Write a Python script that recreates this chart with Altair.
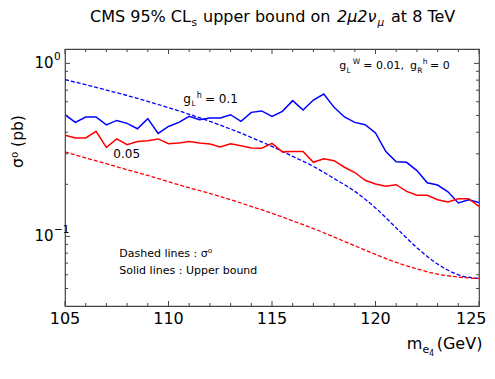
import altair as alt
import pandas as pd

# ---------------- data ----------------
masses_half = [105.0, 105.5, 106.0, 106.5, 107.0, 107.5, 108.0, 108.5, 109.0, 109.5,
               110.0, 110.5, 111.0, 111.5, 112.0, 112.5, 113.0, 113.5, 114.0, 114.5,
               115.0, 115.5, 116.0, 116.5, 117.0, 117.5, 118.0, 118.5, 119.0, 119.5,
               120.0, 120.5, 121.0, 121.5, 122.0, 122.5, 123.0, 123.5, 124.0, 124.5,
               125.0]
# solid lines : CMS upper bound
bound_gl01 = [0.505, 0.456, 0.490, 0.490, 0.441, 0.468, 0.450, 0.419, 0.479, 0.394,
              0.432, 0.456, 0.494, 0.473, 0.483, 0.483, 0.505, 0.462, 0.521, 0.531,
              0.494, 0.528, 0.609, 0.538, 0.614, 0.665, 0.557, 0.490, 0.456, 0.442,
              0.396, 0.309, 0.270, 0.268, 0.240, 0.204, 0.198, 0.181, 0.156, 0.163,
              0.157]
bound_gl005 = [0.384, 0.371, 0.371, 0.405, 0.327, 0.366, 0.339, 0.354, 0.357, 0.366,
               0.343, 0.347, 0.354, 0.347, 0.342, 0.329, 0.343, 0.334, 0.324, 0.323,
               0.345, 0.308, 0.310, 0.310, 0.268, 0.281, 0.274, 0.251, 0.234, 0.211,
               0.201, 0.195, 0.199, 0.182, 0.173, 0.173, 0.163, 0.158, 0.165, 0.165,
               0.149]

masses_int = [105, 106, 107, 108, 109, 110, 111, 112, 113, 114, 115,
              116, 117, 118, 119, 120, 121, 122, 123, 124, 125]
# dashed lines : sigma0
sigma_gl01 = [0.805, 0.753, 0.701, 0.652, 0.603, 0.555, 0.508, 0.462, 0.417, 0.373, 0.331,
              0.290, 0.254, 0.216, 0.182, 0.146, 0.112, 0.0861, 0.0692, 0.0600, 0.0571]
sigma_gl005 = [0.308, 0.284, 0.263, 0.243, 0.225, 0.207, 0.191, 0.177, 0.163, 0.149, 0.136,
               0.123, 0.111, 0.0991, 0.0883, 0.0787, 0.0708, 0.0649, 0.0605, 0.0582, 0.0571]

x_major = [105, 110, 115, 120, 125]
x_labels = ["105", "110", "115", "120", "125"]
x_minor = [106, 107, 108, 109, 111, 112, 113, 114, 116, 117, 118, 119,
           121, 122, 123, 124]
y_major = [0.1, 1.0]
y_exponents = ["−1", "0"]
y_minor = [0.05, 0.06, 0.07, 0.08, 0.09, 0.2, 0.3, 0.4, 0.5, 0.6, 0.7, 0.8, 0.9]

W, H = 414, 257
BLUE, RED = "#0000ff", "#ff0000"
FONT = "DejaVu Sans"
FRAME = "#444444"

xscale = alt.Scale(domain=[105, 125], nice=False, zero=False)
yscale = alt.Scale(type="log", domain=[0.0396, 1.211], nice=False)
xaxis = alt.Axis(values=x_major, title=None, labels=False, domain=False,
                 ticks=False, grid=False)
yaxis = alt.Axis(values=y_major, title=None, labels=False, domain=False,
                 ticks=False, grid=False)


def X():
    return alt.X("m:Q", scale=xscale, axis=xaxis)


def Y():
    return alt.Y("v:Q", scale=yscale, axis=yaxis)


def line(ms, vs, color, dashed=False):
    df = pd.DataFrame({"m": ms, "v": vs})
    if dashed:
        mk = alt.Chart(df).mark_line(color=color, strokeWidth=1.3, strokeDash=[4, 2],
                                     interpolate="monotone", clip=True)
    else:
        mk = alt.Chart(df).mark_line(color=color, strokeWidth=1.5, clip=True)
    return mk.encode(x=X(), y=Y())


def txt(s, x, y, size, **kw):
    return alt.Chart(pd.DataFrame({"t": [s]})).mark_text(
        align=kw.pop("align", "left"), baseline=kw.pop("baseline", "alphabetic"),
        fontSize=size, font=FONT, color="black", **kw
    ).encode(x=alt.value(x), y=alt.value(y), text="t:N")


layers = []
layers.append(line(masses_int, sigma_gl01, BLUE, dashed=True))
layers.append(line(masses_int, sigma_gl005, RED, dashed=True))
layers.append(line(masses_half, bound_gl01, BLUE))
layers.append(line(masses_half, bound_gl005, RED))

# inward ticks
for vals, ln in ((x_major, 5), (x_minor, 3)):
    d = pd.DataFrame({"m": vals})
    layers.append(alt.Chart(d).mark_rule(color=FRAME, strokeWidth=1).encode(
        x=X(), y=alt.value(H), y2=alt.value(H - ln)))
    layers.append(alt.Chart(d).mark_rule(color=FRAME, strokeWidth=1).encode(
        x=X(), y=alt.value(0), y2=alt.value(ln)))
for vals, ln in ((y_major, 5), (y_minor, 3)):
    d = pd.DataFrame({"v": vals})
    layers.append(alt.Chart(d).mark_rule(color=FRAME, strokeWidth=1).encode(
        y=Y(), x=alt.value(0), x2=alt.value(ln)))
    layers.append(alt.Chart(d).mark_rule(color=FRAME, strokeWidth=1).encode(
        y=Y(), x=alt.value(W), x2=alt.value(W - ln)))

# x tick labels (last one kept inside the page)
xlab = pd.DataFrame({"m": x_major[:-1], "t": x_labels[:-1]})
layers.append(alt.Chart(xlab).mark_text(
    align="center", baseline="top", fontSize=16, font=FONT, color="black"
).encode(x=X(), y=alt.value(H + 5), text="t:N"))
xlab_last = pd.DataFrame({"m": x_major[-1:], "t": x_labels[-1:]})
layers.append(alt.Chart(xlab_last).mark_text(
    align="right", baseline="top", fontSize=16, font=FONT, color="black", dx=7.5
).encode(x=X(), y=alt.value(H + 5), text="t:N"))

# y tick labels 10^0, 10^-1 built from base and superscript
ylab = pd.DataFrame({"v": y_major, "e": y_exponents, "b": ["10", "10"]})
layers.append(alt.Chart(ylab).mark_text(
    align="right", baseline="middle", fontSize=15, font=FONT, color="black"
).encode(y=Y(), x=alt.value(-11.5), text="b:N"))
layers.append(alt.Chart(ylab).mark_text(
    align="left", baseline="middle", fontSize=10.5, font=FONT, color="black", dy=-6
).encode(y=Y(), x=alt.value(-11), text="e:N"))

# title pieces
TY = -27.5
layers += [
    txt("CMS 95% CL", 25, TY, 16),
    txt("s", 126.5, TY + 4, 10.5),
    txt("upper bound on", 138, TY, 16),
    txt("2μ2ν", 272, TY, 16, fontStyle="italic"),
    txt("μ", 312.5, TY + 4, 10.5, fontStyle="italic"),
    txt("at 8 TeV", 326, TY, 16),
]

# axis titles
layers += [
    txt("m", 341.7, 300, 16),
    txt("e", 357.5, 304, 11),
    txt("4", 364, 306.5, 8),
    txt("(GeV)", 371.7, 300, 16),
    txt("σ⁰ (pb)", -47.5, 92.5, 15.5, align="center", baseline="middle", angle=270),
]

# annotations
layers += [
    txt("g", 118.3, 53.5, 12),
    txt("L", 126.5, 56.7, 7.5),
    txt("h", 131.7, 48.7, 8),
    txt("= 0.1", 140, 53.5, 12),
    txt("0.05", 48.3, 109.3, 12),
    txt("g", 274.3, 20.3, 11),
    txt("L", 281.5, 23.8, 7.5),
    txt("W", 287.7, 15.3, 7.5),
    txt("= 0.01,", 298.3, 20.3, 11),
    txt("g", 345, 20.3, 11),
    txt("R", 352.3, 23.8, 7.5),
    txt("h", 357.7, 15.3, 7.5),
    txt("= 0", 365, 20.3, 11),
    txt("Dashed lines : σ⁰", 54.3, 207.7, 11),
    txt("Solid lines : Upper bound", 54.3, 225, 11),
]

chart = alt.layer(*layers).properties(
    width=W, height=H,
    autosize=alt.AutoSizeParams(type="none"),
    padding={"left": 57, "top": 41, "right": 8, "bottom": 60},
).configure_view(stroke=FRAME, strokeWidth=1.2)

chart.save("out.html", embed_options={"renderer": "svg", "actions": False})
